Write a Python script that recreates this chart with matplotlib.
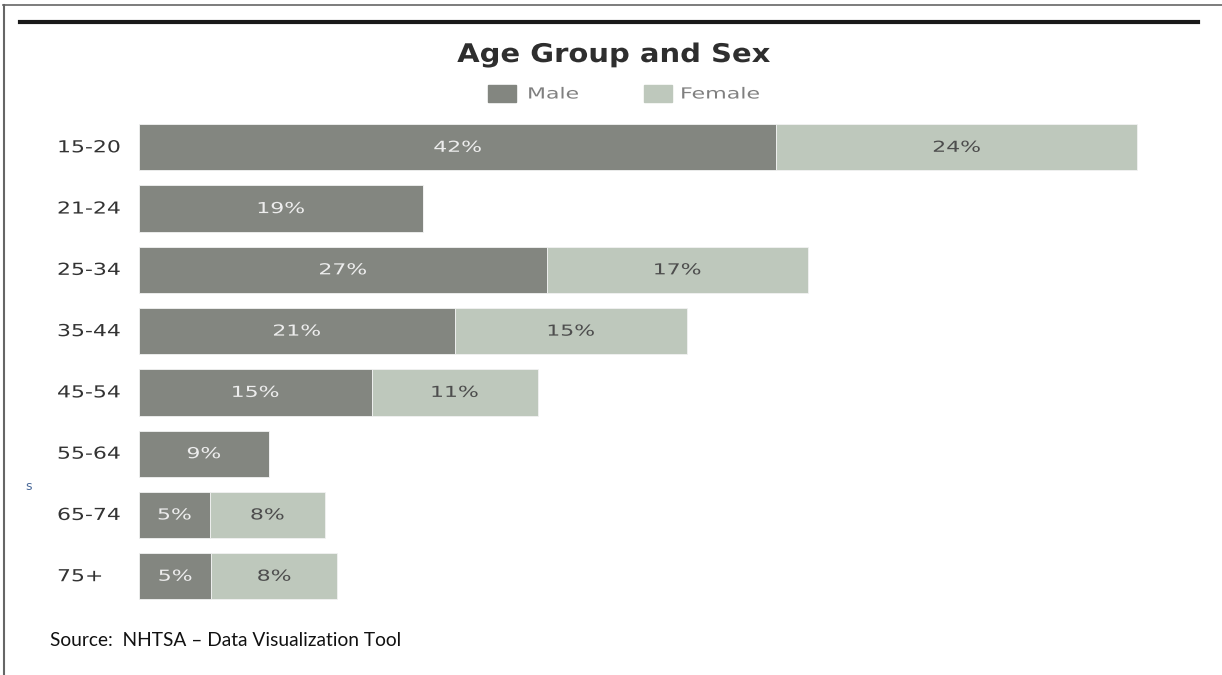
import matplotlib
matplotlib.use("Agg")
import matplotlib.pyplot as plt
from matplotlib.lines import Line2D
from matplotlib.patches import Rectangle
from matplotlib.patheffects import AbstractPathEffect
from matplotlib.transforms import Affine2D

categories = ["15-20", "21-24", "25-34", "35-44", "45-54", "55-64", "65-74", "75+"]
male = [42.2, 18.8, 27.0, 20.9, 15.4, 8.6, 4.7, 4.8]
female = [23.9, 0.0, 17.3, 15.4, 11.0, 0.0, 7.6, 8.3]
male_labels = ["42%", "19%", "27%", "21%", "15%", "9%", "5%", "5%"]
female_labels = ["24%", "", "17%", "15%", "11%", "", "8%", "8%"]

MALE_C = "#838680"
FEMALE_C = "#bec8bc"


class Stretch(AbstractPathEffect):
    """Horizontally widen text glyphs (wide Tableau-like lettering)."""

    def __init__(self, sx, anchor="left"):
        super().__init__()
        self.sx = sx
        self.anchor = anchor

    def draw_path(self, renderer, gc, tpath, affine, rgbFace=None):
        if self.anchor == "center":
            ext = tpath.get_extents()
            cx = (ext.x0 + ext.x1) / 2
        else:
            cx = 0.0
        t = Affine2D().translate(-cx, 0).scale(self.sx, 1).translate(cx, 0)
        renderer.draw_path(gc, tpath, t + affine, rgbFace)


W, H = 1222, 675
fig = plt.figure(figsize=(W / 100, H / 100), dpi=100)
fig.patch.set_facecolor("white")

ax_left, ax_right = 139, 1200
pitch = 61.27
y_top = 147.3 - 0.5 * pitch
y_bot = 576.2 + 0.5 * pitch
ax = fig.add_axes([ax_left / W, 1 - y_bot / H, (ax_right - ax_left) / W, (y_bot - y_top) / H])
ax.set_xlim(0, (ax_right - ax_left) / 15.1)
ax.set_ylim(len(categories) - 0.5, -0.5)
ax.axis("off")

ypos = list(range(len(categories)))
ax.barh(ypos, male, height=0.755, color=MALE_C, edgecolor="#f2f2f2", linewidth=0.6)
ax.barh(ypos, female, left=male, height=0.755, color=FEMALE_C, edgecolor="#f2f2f2", linewidth=0.6)

for i in ypos:
    ax.text(male[i] / 2, i, male_labels[i], ha="center", va="center",
            color="#ededed", fontsize=10.9, family="DejaVu Sans",
            path_effects=[Stretch(1.45, "center")])
    if female[i] > 0:
        ax.text(male[i] + female[i] / 2, i, female_labels[i], ha="center", va="center",
                color="#4d4d4d", fontsize=10.9, family="DejaVu Sans",
                path_effects=[Stretch(1.45, "center")])
    ax.text(-82 / 15.1, i, categories[i], ha="left", va="center",
            color="#333333", fontsize=11.9, family="DejaVu Sans",
            path_effects=[Stretch(1.33, "left")])

# title
fig.text(614 / W, 1 - 55 / H, "Age Group and Sex", ha="center", va="center",
         fontsize=18.5, fontweight="bold", color="#2e2e2e", family="DejaVu Sans",
         path_effects=[Stretch(1.13, "center")])

# legend
fig.patches.append(Rectangle((488 / W, 1 - 102 / H), 28 / W, 17 / H,
                             transform=fig.transFigure, color=MALE_C))
fig.text(527 / W, 1 - 94 / H, "Male", ha="left", va="center", fontsize=11,
         color="#808080", family="DejaVu Sans", path_effects=[Stretch(1.44, "left")])
fig.patches.append(Rectangle((644 / W, 1 - 102 / H), 28 / W, 17 / H,
                             transform=fig.transFigure, color=FEMALE_C))
fig.text(680 / W, 1 - 94 / H, "Female", ha="left", va="center", fontsize=11,
         color="#808080", family="DejaVu Sans", path_effects=[Stretch(1.45, "left")])

# frame lines
fig.add_artist(Line2D([3 / W, 1], [1 - 5 / H, 1 - 5 / H], transform=fig.transFigure,
                      color="#666666", linewidth=1.2))
fig.add_artist(Line2D([4 / W, 4 / W], [0, 1 - 5 / H], transform=fig.transFigure,
                      color="#666666", linewidth=1.5))
fig.add_artist(Line2D([20 / W, 1198 / W], [1 - 22 / H, 1 - 22 / H], transform=fig.transFigure,
                      color="#1a1a1a", linewidth=3))

# stray label fragment at the left edge
fig.text(25 / W, 1 - 487 / H, "s", ha="left", va="center", fontsize=9,
         color="#4a6a9a", family="DejaVu Sans")

# source
fig.text(50 / W, 1 - 640 / H, "Source:  NHTSA \u2013 Data Visualization Tool", ha="left",
         va="center", fontsize=13.8, color="#111111", family="Lato")

fig.savefig("out.png", dpi=100, facecolor="white")
